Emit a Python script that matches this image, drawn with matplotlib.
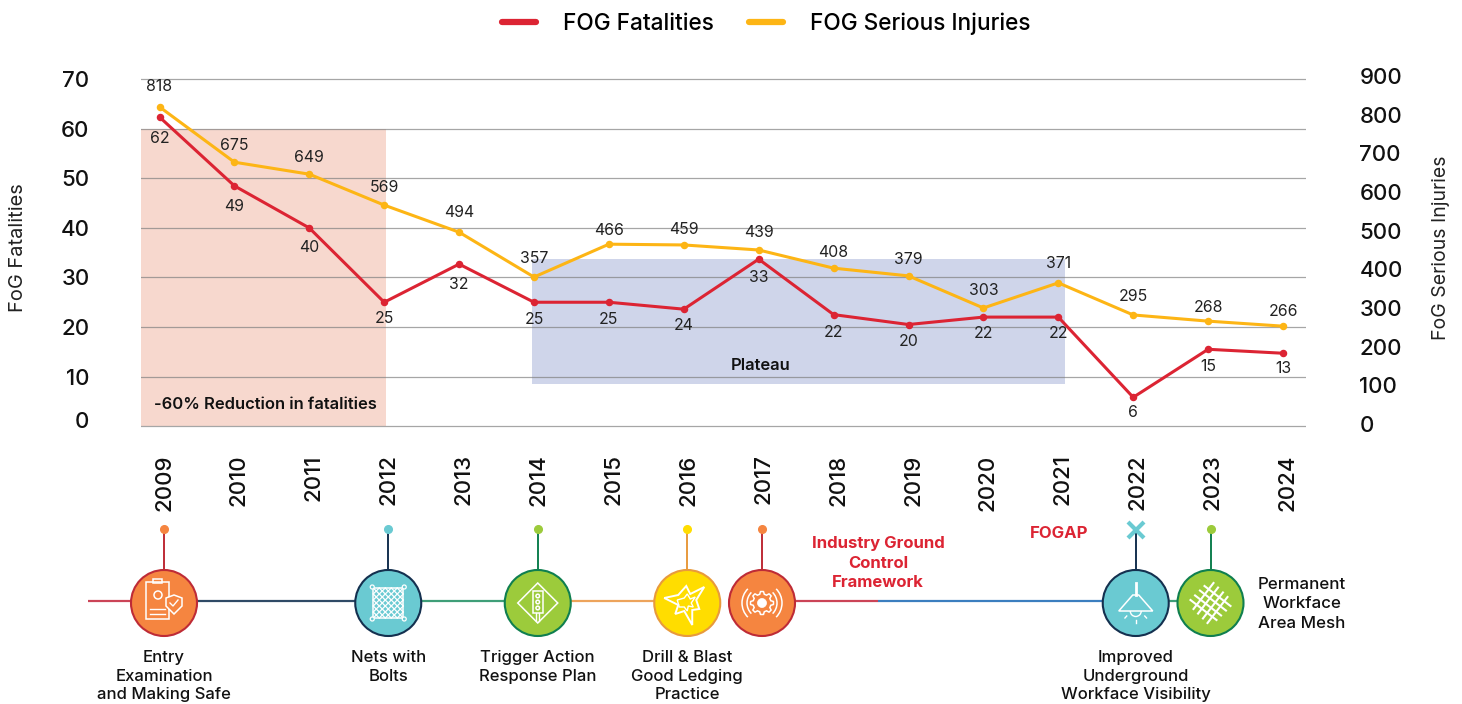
import numpy as np
import matplotlib
matplotlib.use('Agg')
import matplotlib.pyplot as plt
from matplotlib.patches import Circle, Polygon, Rectangle, Arc
from matplotlib.lines import Line2D
from matplotlib.transforms import ScaledTranslation

plt.rcParams['font.family'] = ['Inter', 'DejaVu Sans']

# Anos e series
years = list(range(2009, 2025))
fatalities = [62.4, 48.5, 40, 25, 32.7, 25, 25, 23.6, 33.7, 22.5, 20.5, 22, 22, 5.8, 15.5, 14.7]
injuries = [820, 677, 646, 566, 496, 380, 465, 463, 450, 403, 383, 300, 365, 282, 266, 253]

# Rotulos impressos no grafico (nem sempre iguais a posicao do ponto)
fatalities_labels = [62, 49, 40, 25, 32, 25, 25, 24, 33, 22, 20, 22, 22, 6, 15, 13]
injuries_labels = [818, 675, 649, 569, 494, 357, 466, 459, 439, 408, 379, 303, 371, 295, 268, 266]

# Distancia do rotulo ao ponto, em pixels
fatalities_dy = [21, 21, 20, 16, 20, 17, 17, 16, 18, 18, 17, 16, 16, 15, 17, 15]
injuries_dy = [20, 17, 17, 18, 20, 19, 14, 15, 17, 16, 16, 17, 19, 18, 14, 15]

left_ticks = [0, 10, 20, 30, 40, 50, 60, 70]
right_ticks = [0, 100, 200, 300, 400, 500, 600, 700, 800, 900]

# Marcos da linha do tempo
milestone_years = [2009, 2012, 2014, 2016, 2017, 2022, 2023]
milestone_names = ['Entry\nExamination\nand Making Safe', 'Nets with\nBolts', 'Trigger Action\nResponse Plan',
                   'Drill & Blast\nGood Ledging\nPractice', '', 'Improved\nUnderground\nWorkface Visibility', '']

RED = '#DC2433'
YELLOW = '#FDB515'
INK = '#111111'
W, H = 1462, 704


def fig_rect(x0, y0, x1, y1):
    return [x0 / W, 1 - y1 / H, (x1 - x0) / W, (y1 - y0) / H]


fig = plt.figure(figsize=(W / 100, H / 100), dpi=100)
ax = fig.add_axes(fig_rect(141, 70, 1306, 430))
ax2 = ax.twinx()

ax.set_xlim(2008.753, 2024.307)
ax.set_ylim(-0.8, 71.9)
ax2.set_ylim(-15.5, 915.4)

# Areas destacadas
ax.fill_between([2008.753, 2012.03], 0, 60, color='#F7D8CE', lw=0, zorder=1)
ax.fill_between([2013.97, 2021.09], 8.4, 33.7, color='#CFD5EA', lw=0, zorder=1)
ax.text(2010.42, 4.4, '-60% Reduction in fatalities', ha='center', va='center', fontsize=11.9, weight=600, color=INK)
ax.text(2017.02, 12.2, 'Plateau', ha='center', va='center', fontsize=11.9, weight=600, color=INK)

for v in left_ticks:
    ax.axhline(v, color='#808080', lw=0.9, alpha=0.7, zorder=2)

ax2.set_zorder(ax.get_zorder() + 1)
ax2.patch.set_visible(False)
ax.plot(years, fatalities, color=RED, lw=2.2, marker='o', ms=4.4, zorder=4, label='FOG Fatalities')
ax2.plot(years, injuries, color=YELLOW, lw=2.2, marker='o', ms=4.4, zorder=4, label='FOG Serious Injuries')

# Rotulos de valor
for x, y, t, dy in zip(years, fatalities, fatalities_labels, fatalities_dy):
    ax.annotate(str(t), (x, y), xytext=(0, -dy * 0.72), textcoords='offset points',
                ha='center', va='center', fontsize=11.4, color='#222222')
for x, y, t, dy in zip(years, injuries, injuries_labels, injuries_dy):
    ax2.annotate(str(t), (x, y), xytext=(0, dy * 0.72), textcoords='offset points',
                 ha='center', va='center', fontsize=11.4, color='#222222')

# Eixos
for a in (ax, ax2):
    for s in a.spines.values():
        s.set_visible(False)
    a.tick_params(length=0)

ax.set_yticks(left_ticks)
ax.set_yticklabels([str(v) for v in left_ticks], fontsize=16, weight=500, color=INK)
ax.tick_params(axis='y', pad=37)
ax2.set_yticks(right_ticks)
ax2.set_yticklabels([str(v) for v in right_ticks], fontsize=16, weight=500, color=INK)
ax2.tick_params(axis='y', pad=38.5)
# o zero da esquerda fica um pouco acima da linha
zero_lab = ax.get_yticklabels()[0]
zero_lab.set_transform(zero_lab.get_transform() + ScaledTranslation(0, 6 / 100, fig.dpi_scale_trans))

ax.set_xticks(years)
ax.set_xticklabels([str(y) for y in years], rotation=90, fontsize=16, weight=500, color=INK)
ax.tick_params(axis='x', pad=17.5)
for lab in ax.get_xticklabels():
    lab.set_transform(lab.get_transform() + ScaledTranslation(4.5 / 100, 0, fig.dpi_scale_trans))

fig.text(18 / W, 1 - 248 / H, 'FoG Fatalities', rotation=90, ha='center', va='center', fontsize=14.4, color='#222222')
fig.text(1441 / W, 1 - 248 / H, 'FoG Serious Injuries', rotation=90, ha='center', va='center', fontsize=14, color='#222222')

handles = [Line2D([], [], color=RED, lw=4.5, solid_capstyle='round'),
           Line2D([], [], color=YELLOW, lw=4.5, solid_capstyle='round')]
fig.legend(handles, ['FOG Fatalities', 'FOG Serious Injuries'], loc='center', ncol=2,
           bbox_to_anchor=(766.5 / W, 1 - 24 / H), frameon=False, handlelength=1.5,
           handletextpad=1.2, columnspacing=1.55, prop={'size': 16.3, 'weight': 500})

# Linha do tempo em coordenadas de pixel
tl = fig.add_axes([0, 0, 1, 1])
tl.set_xlim(0, W)
tl.set_ylim(H, 0)
tl.axis('off')
tl.patch.set_visible(False)


def year_x(y):
    return 164 + (y - 2009) * 74.75


ORANGE_C = ('#F58540', '#BE2B36')
TEAL_C = ('#6ACAD2', '#14304F')
GREEN_C = ('#9CCB3B', '#0F7F4F')
YEL_C = ('#FFDD00', '#E89A3C')
milestone_style = [ORANGE_C, TEAL_C, GREEN_C, YEL_C, ORANGE_C, TEAL_C, GREEN_C]
cy = 603
R = 33

for x0, x1, c in [(88, 135, '#CB4457'), (195, 358, '#2F4A66'), (420, 506, '#3F9E78'), (568, 656, '#EDA45C'),
                  (790, 878, '#CB4457'), (878, 1104, '#3B7EBF'), (1166, 1182, '#3F9E78')]:
    tl.plot([x0, x1], [601, 601], color=c, lw=1.6, solid_capstyle='butt', zorder=1)

for y, (fc, ec), name in zip(milestone_years, milestone_style, milestone_names):
    x = year_x(y)
    tl.plot([x, x], [530, 570], color=ec, lw=1.4, zorder=1)
    tl.add_patch(Circle((x, cy), R, fc=fc, ec=ec, lw=1.5, zorder=2))
    if name:
        lines = name.split('\n')
        for i, line in enumerate(lines):
            tl.text(x, 657.5 + i * 18.7, line, ha='center', va='center', fontsize=12, weight=500, color=INK)

# pontas das hastes
tip_colors = ['#F58540', '#6ACAD2', '#9CCB3B', '#FFDD00', '#F58540', None, '#9CCB3B']
for y, c in zip(milestone_years, tip_colors):
    if c:
        tl.plot(year_x(y), 529, 'o', color=c, ms=5.5, zorder=3)
tl.plot(year_x(2022), 530, marker='x', color='#6ACAD2', ms=12, mew=3, zorder=3)


def white():
    return dict(ec='white', fc='none', lw=1.1, zorder=5)


def icon_clipboard(cx):
    tl.add_patch(Rectangle((cx - 18, cy - 21), 23, 37, **white()))
    tl.add_patch(Rectangle((cx - 11, cy - 24), 9, 4, **white()))
    tl.add_patch(Circle((cx - 6, cy - 8), 4, **white()))
    tl.plot([cx - 14, cx + 1], [cy + 6, cy + 6], color='white', lw=1, zorder=5)
    tl.plot([cx - 14, cx + 1], [cy + 11, cy + 11], color='white', lw=1, zorder=5)
    tl.add_patch(Polygon([(cx + 2, cy - 5), (cx + 10, cy - 8), (cx + 18, cy - 5), (cx + 18, cy + 3), (cx + 10, cy + 11),
                          (cx + 2, cy + 3)], closed=True, ec='white', fc='#F58540', lw=1.1, zorder=6))
    tl.plot([cx + 6, cx + 9, cx + 14], [cy, cy + 3, cy - 3], color='white', lw=1, zorder=7)


def icon_net(cx):
    tl.add_patch(Rectangle((cx - 15, cy - 15), 30, 30, **white()))
    for d in np.arange(-24, 25, 6):
        xa = np.array([cx - 15, cx + 15])
        for s in (1, -1):
            ya = cy + s * (xa - cx) + d
            ya_c = np.clip(ya, cy - 15, cy + 15)
            xa_c = cx + s * (ya_c - cy - d)
            tl.plot(xa_c, ya_c, color='white', lw=0.9, zorder=5)
    for sx in (-1, 1):
        for sy in (-1, 1):
            tl.add_patch(Circle((cx + sx * 16, cy + sy * 16), 2, ec='white', fc=TEAL_C[0], lw=0.9, zorder=6))


def icon_traffic(cx):
    tl.add_patch(Polygon([(cx, cy - 20), (cx + 20, cy), (cx, cy + 20), (cx - 20, cy)], closed=True, **white()))
    tl.add_patch(Rectangle((cx - 5, cy - 12), 10, 22, **white()))
    for dy in (-7, -1, 5):
        tl.add_patch(Circle((cx, cy + dy), 1.8, **white()))
    tl.plot([cx - 1.5, cx - 1.5], [cy + 10, cy + 18], color='white', lw=1, zorder=5)
    tl.plot([cx + 1.5, cx + 1.5], [cy + 10, cy + 18], color='white', lw=1, zorder=5)


def icon_blast(cx):
    out = [(-23, -5), (-9, -8), (-1, -17), (3, -9), (17, -16), (9, -3), (12, 6), (5, 7), (5, 22), (-3, 8), (-12, 11),
           (-9, 2)]
    inner = [(-10, -3), (-3, -5), (0, -9), (3, -4), (8, -6), (4, 0), (6, 4), (1, 3), (0, 8), (-3, 4), (-8, 4)]
    tl.add_patch(Polygon([(cx + a, cy + b) for a, b in out], closed=True, ec='white', fc='none', lw=1.4, zorder=5))
    tl.add_patch(Polygon([(cx + a, cy + b) for a, b in inner], closed=True, ec='white', fc='none', lw=1.0, zorder=5))


def icon_gear(cx):
    ang = np.linspace(0, 2 * np.pi, 49)
    rad = 9 + 2.5 * (np.cos(8 * ang) > 0)
    tl.add_patch(Polygon(np.c_[cx + rad * np.cos(ang), cy + rad * np.sin(ang)], closed=True, **white()))
    tl.add_patch(Circle((cx, cy), 4.5, ec='white', fc='white', lw=0.5, zorder=5))
    for r in (15, 20):
        tl.add_patch(Arc((cx, cy), 2 * r, 2 * r, theta1=-45, theta2=45, ec='white', lw=1.1, zorder=5))
        tl.add_patch(Arc((cx, cy), 2 * r, 2 * r, theta1=135, theta2=225, ec='white', lw=1.1, zorder=5))


def icon_lamp(cx):
    tl.add_patch(Polygon([(cx - 17, cy + 8), (cx - 3, cy - 8), (cx + 3, cy - 8), (cx + 17, cy + 8)], closed=True,
                         **white()))
    tl.plot([cx, cx], [cy - 20, cy - 8], color='white', lw=2, zorder=5)
    tl.add_patch(Arc((cx, cy + 8), 11, 11, theta1=0, theta2=180, ec='white', lw=1, zorder=5))
    for dx, y0, y1 in [(-9, 13, 15), (0, 17, 20), (9, 13, 15)]:
        tl.plot([cx + dx, cx + dx * 1.2], [cy + y0, cy + y1], color='white', lw=1, zorder=5)


def icon_mesh(cx):
    for d in (-10, -3.5, 3.5, 10):
        tl.plot([cx - 13 + d * 0.7, cx + 13 + d * 0.7], [cy - 10 - d * 0.7, cy + 10 - d * 0.7], color='white', lw=1.5, zorder=5)
        tl.plot([cx - 10 + d * 0.7, cx + 10 + d * 0.7], [cy + 13 + d * 0.7, cy - 13 + d * 0.7], color='white', lw=1.5, zorder=5)


icons = [icon_clipboard, icon_net, icon_traffic, icon_blast, icon_gear, icon_lamp, icon_mesh]
for y, draw in zip(milestone_years, icons):
    draw(year_x(y))

# Textos soltos
for i, line in enumerate(['Permanent', 'Workface', 'Area Mesh']):
    tl.text(1302, 584.5 + i * 19.5, line, ha='center', va='center', fontsize=12.2, weight=500, color=INK)
for i, line in enumerate(['Industry Ground', 'Control', 'Framework']):
    tl.text(878, 543.5 + i * 19.5, line, ha='center', va='center', fontsize=12, weight=700, color=RED)
tl.text(1059, 533, 'FOGAP', ha='center', va='center', fontsize=12, weight=700, color=RED)

fig.savefig('out.png', dpi=100, facecolor='white')
plt.close()
